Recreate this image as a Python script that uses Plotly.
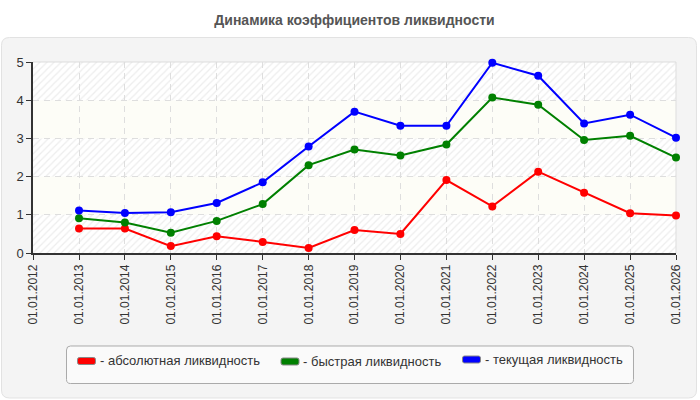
import plotly.graph_objects as go

# ---- data ----
dates = ["2013-01-01", "2014-01-01", "2015-01-01", "2016-01-01", "2017-01-01",
         "2018-01-01", "2019-01-01", "2020-01-01", "2021-01-01", "2022-01-01",
         "2023-01-01", "2024-01-01", "2025-01-01", "2026-01-01"]
absolute = [0.64, 0.64, 0.18, 0.44, 0.29, 0.13, 0.60, 0.50, 1.91, 1.22, 2.13, 1.58, 1.04, 0.98]
quick = [0.91, 0.80, 0.53, 0.84, 1.28, 2.30, 2.71, 2.55, 2.84, 4.07, 3.88, 2.96, 3.07, 2.50]
current = [1.11, 1.05, 1.07, 1.31, 1.85, 2.79, 3.70, 3.33, 3.33, 4.98, 4.64, 3.39, 3.62, 3.02]
tick_years = list(range(2012, 2027))
tick_vals = [f"{y}-01-01" for y in tick_years]
tick_text = [f"01.01.{y}" for y in tick_years]
series_names = ["- абсолютная ликвидность", "- быстрая ликвидность", "- текущая ликвидность"]
series_colors = ["#ff0000", "#008000", "#0000ff"]

W, H = 700, 400
ML, MR, MT, MB = 33, 24, 62, 147
PW, PH = W - ML - MR, H - MT - MB


def px(x):
    return (x - ML) / PW


def py(y):
    return (H - MB - y) / PH


def rrect(x0, y0, x1, y1, r):
    def P(x, y):
        return f"{px(x):.5f},{py(y):.5f}"
    return (f"M {P(x0 + r, y0)} L {P(x1 - r, y0)} Q {P(x1, y0)} {P(x1, y0 + r)} "
            f"L {P(x1, y1 - r)} Q {P(x1, y1)} {P(x1 - r, y1)} "
            f"L {P(x0 + r, y1)} Q {P(x0, y1)} {P(x0, y1 - r)} "
            f"L {P(x0, y0 + r)} Q {P(x0, y0)} {P(x0 + r, y0)} Z")


fig = go.Figure()

# hatched background bands (decoration)
span_ms = (14 * 365.25) * 24 * 3600 * 1000
fig.add_trace(go.Bar(
    x=["2019-01-01"] * 3, y=[1, 1, 1], base=[0, 2, 4], width=[span_ms] * 3,
    marker=dict(color="rgba(0,0,0,0)", line=dict(width=0),
                pattern=dict(shape="/", fgcolor="#dcdcdc", bgcolor="rgba(0,0,0,0)",
                             size=5, solidity=0.25, fillmode="overlay")),
    hoverinfo="skip", showlegend=False))

for vals, name, col in zip([absolute, quick, current], series_names, series_colors):
    fig.add_trace(go.Scatter(
        x=dates, y=vals, mode="lines+markers", name=name, cliponaxis=False,
        line=dict(color=col, width=2), marker=dict(color=col, size=8),
        showlegend=False))

shapes = []
# panel
shapes.append(dict(type="path", xref="paper", yref="paper", layer="below",
                   path=rrect(1.5, 37.5, 696.5, 398, 8),
                   fillcolor="#f4f4f4", line=dict(color="#e2e2e2", width=1)))
# plot background
shapes.append(dict(type="rect", xref="paper", yref="paper", layer="below",
                   x0=0, x1=1, y0=0, y1=1, fillcolor="#ffffff", line=dict(width=0)))
# yellowish bands
for b0 in (1, 3):
    shapes.append(dict(type="rect", xref="paper", yref="y", layer="below",
                       x0=0, x1=1, y0=b0, y1=b0 + 1, fillcolor="#fdfdf7", line=dict(width=0)))
# legend box
shapes.append(dict(type="path", xref="paper", yref="paper", layer="above",
                   path=rrect(66.5, 346, 633.5, 383.5, 4),
                   fillcolor="rgba(250,250,250,1)", line=dict(color="#aaaaaa", width=1)))

annotations = []
leg_rect_x = [77.5, 281, 462.5]
leg_rect_y = [361, 361.5, 359.5]
for name, col, rx, ry in zip(series_names, series_colors, leg_rect_x, leg_rect_y):
    shapes.append(dict(type="path", xref="paper", yref="paper", layer="above",
                       path=rrect(rx, ry - 3.5, rx + 18, ry + 3.5, 2),
                       fillcolor=col, line=dict(color="#888888", width=1)))
    annotations.append(dict(xref="paper", yref="paper", x=px(rx + 20), y=py(ry - 0.5),
                            xanchor="left", yanchor="middle", showarrow=False,
                            text=name, font=dict(size=13, color="#333333",
                                                 family="Liberation Sans, Arial, sans-serif")))

fig.update_layout(
    width=W, height=H,
    margin=dict(l=ML, r=MR, t=MT, b=MB, pad=0),
    paper_bgcolor="#ffffff", plot_bgcolor="rgba(0,0,0,0)",
    font=dict(family="Liberation Sans, Arial, sans-serif", size=12, color="#333333"),
    title=dict(text="<b>Динамика коэффициентов ликвидности</b>", x=0.5, xanchor="center",
               y=1 - 20 / H, yanchor="middle", xref="paper",
               font=dict(size=14, color="#555555")),
    barmode="overlay",
    shapes=shapes, annotations=annotations,
    xaxis=dict(type="date", range=["2012-01-01", "2026-01-01"],
               tickvals=tick_vals, ticktext=tick_text, tickangle=-90,
               showgrid=True, gridcolor="#dedede", griddash="6px,5px", gridwidth=1,
               showline=True, linecolor="#333333", linewidth=1.5,
               ticks="outside", ticklen=5, tickcolor="#333333",
               tickfont=dict(size=12, color="#333333"), zeroline=False,
               fixedrange=True),
    yaxis=dict(range=[0, 5], dtick=1, tick0=0,
               showgrid=True, gridcolor="#dedede", griddash="6px,5px", gridwidth=1,
               showline=True, linecolor="#333333", linewidth=1.5,
               ticks="outside", ticklen=5, tickcolor="#333333",
               tickfont=dict(size=13, color="#333333"), zeroline=False,
               fixedrange=True),
)
# top and right light border of plot area
fig.add_shape(type="line", xref="paper", yref="paper", x0=0, x1=1, y0=1, y1=1,
              line=dict(color="#dddddd", width=1), layer="below")
fig.add_shape(type="line", xref="paper", yref="paper", x0=1, x1=1, y0=0, y1=1,
              line=dict(color="#dddddd", width=1), layer="below")

fig.write_html("out.html")
